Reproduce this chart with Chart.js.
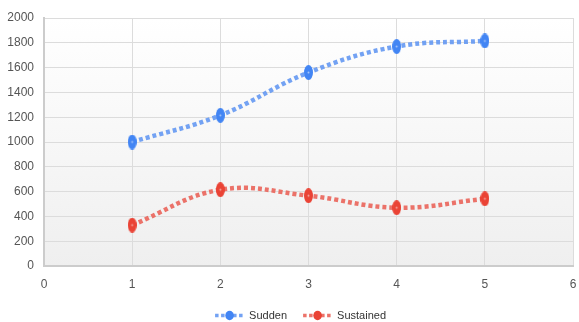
<!DOCTYPE html>
<html>
<head>
<meta charset="utf-8">
<script src="https://cdn.jsdelivr.net/npm/chart.js@4/dist/chart.umd.min.js"></script>
<style>
  html, body { margin: 0; padding: 0; background: #fff; }
  #wrap { width: 579px; height: 322px; }
</style>
</head>
<body>
<div id="wrap"><canvas id="myChart"></canvas></div>
<script>
var xValues = [1, 2, 3, 4, 5];
var sudden = [1000, 1215, 1560, 1770, 1815];
var sustained = [330, 615, 567, 470, 542];
var seriesNames = ['Sudden', 'Sustained'];
var lineColors = ['rgba(100,152,242,0.9)', 'rgba(234,100,90,0.9)'];
var dotColors = ['#4285f4', '#ea4335'];

var tickFont = { family: '"Liberation Sans", Arial', size: 12 };
var legendFont = { family: '"Liberation Sans", Arial', size: 11 };
var legendBoxW = 32.6;
var legendShift = 9;

function toPoints(xs, ys) {
  return xs.map(function(x, i) { return {x: x, y: ys[i]}; });
}

// the markers in the picture are a bit taller than wide
function makeOval(color, w, h) {
  var c = document.createElement('canvas');
  c.width = w; c.height = h;
  var g = c.getContext('2d');
  g.fillStyle = color;
  g.beginPath();
  g.ellipse(w / 2, h / 2, w / 2, h / 2, 0, 0, Math.PI * 2);
  g.fill();
  g.fillStyle = 'rgba(255,255,255,0.55)';
  g.beginPath();
  g.arc(w / 2, h / 2, 1, 0, Math.PI * 2);
  g.fill();
  return c;
}

var bgPlugin = {
  id: 'plotBg',
  afterLayout: function(chart) {
    // legend sits a little right of the canvas centre in the picture
    chart.legend.left += legendShift;
    chart.legend.right += legendShift;
  },
  beforeDraw: function(chart) {
    var a = chart.chartArea, ctx = chart.ctx;
    var g = ctx.createLinearGradient(0, a.top, 0, a.bottom);
    g.addColorStop(0, '#ffffff');
    g.addColorStop(1, '#efefef');
    ctx.save();
    ctx.fillStyle = g;
    ctx.fillRect(a.left, a.top, a.right - a.left, a.bottom - a.top);
    ctx.restore();
  }
};

// dashed line with a dot for each legend entry, placed from the text position
var legendMarks = {
  id: 'legendMarks',
  afterDraw: function(chart) {
    var boxes = chart.legend.legendHitBoxes;
    var ctx = chart.ctx;
    boxes.forEach(function(b, i) {
      var cy = b.top + b.height / 2;
      var tx = b.left + legendBoxW + legendFont.size / 2;
      ctx.save();
      ctx.strokeStyle = lineColors[i];
      ctx.lineWidth = 3.5;
      ctx.setLineDash([3.5, 2.5]);
      ctx.beginPath();
      ctx.moveTo(tx - 34, cy);
      ctx.lineTo(tx - 4, cy);
      ctx.stroke();
      ctx.fillStyle = dotColors[i];
      ctx.beginPath();
      ctx.ellipse(tx - 19.5, cy, 4.3, 4.7, 0, 0, Math.PI * 2);
      ctx.fill();
      ctx.restore();
    });
  }
};

var ctx = document.getElementById('myChart').getContext('2d');
var chart = new Chart(ctx, {
  type: 'line',
  data: {
    datasets: [{
      label: seriesNames[0],
      data: toPoints(xValues, sudden),
      borderColor: lineColors[0],
      borderWidth: 4.5,
      borderDash: [4, 3],
      tension: 0.4,
      pointStyle: makeOval(dotColors[0], 9, 15),
      pointRadius: 6,
      pointBorderWidth: 0,
      pointBackgroundColor: dotColors[0]
    }, {
      label: seriesNames[1],
      data: toPoints(xValues, sustained),
      borderColor: lineColors[1],
      borderWidth: 4.5,
      borderDash: [4, 3],
      tension: 0.4,
      pointStyle: makeOval(dotColors[1], 9, 15),
      pointRadius: 6,
      pointBorderWidth: 0,
      pointBackgroundColor: dotColors[1]
    }]
  },
  options: {
    responsive: true,
    maintainAspectRatio: false,
    animation: false,
    layout: { padding: { top: 18, right: 0, left: 0, bottom: -9 } },
    plugins: {
      tooltip: { enabled: false },
      legend: {
        position: 'bottom',
        labels: {
          usePointStyle: true,
          pointStyle: 'line',
          pointStyleWidth: legendBoxW,
          color: '#333',
          font: legendFont,
          padding: 12
        }
      }
    },
    scales: {
      x: {
        type: 'linear',
        min: 0,
        max: 6,
        ticks: { stepSize: 1, color: '#555', font: tickFont, padding: 0 },
        grid: { color: '#dcdcdc', lineWidth: 1, drawTicks: true, tickLength: 11, tickColor: 'rgba(0,0,0,0)' },
        border: { color: '#cccccc', width: 2 },
        afterFit: function(scale) { scale.height = 32; }
      },
      y: {
        min: 0,
        max: 2000,
        ticks: {
          stepSize: 200,
          color: '#555',
          font: tickFont,
          padding: 10,
          callback: function(v) { return String(v); }
        },
        grid: { color: '#dcdcdc', lineWidth: 1, drawTicks: false },
        border: { color: '#cccccc', width: 2 },
        afterFit: function(scale) { scale.width = 44; }
      }
    }
  },
  plugins: [bgPlugin, legendMarks]
});
</script>
</body>
</html>
